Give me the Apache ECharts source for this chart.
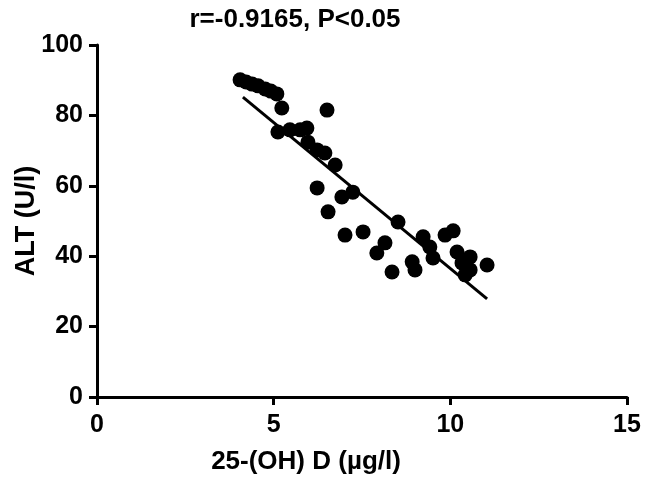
<!DOCTYPE html>
<html>
<head>
<meta charset="utf-8">
<script src="https://cdn.jsdelivr.net/npm/echarts@6/dist/echarts.min.js"></script>
<style>
html,body{margin:0;padding:0;background:#fff;}
#chart{width:646px;height:483px;}
</style>
</head>
<body>
<div id="chart"></div>
<script>
// 25-(OH) D (µg/l) values
const vitD = [4.05,4.22,4.39,4.56,4.76,4.92,5.09,5.23,6.51,5.12,5.46,5.75,5.94,5.97,6.23,6.45,6.74,6.23,6.93,7.24,6.54,7.02,7.53,7.92,8.15,8.35,8.52,8.92,9.0,9.23,9.42,9.51,9.85,10.08,10.19,10.33,10.56,10.56,10.42,11.04];
// ALT (U/l) values
const alt = [90.1,89.5,88.9,88.4,87.5,86.9,86.1,82.1,81.5,75.3,75.9,75.9,76.4,72.4,70.2,69.3,65.9,59.4,56.8,58.2,52.6,46.0,46.9,40.9,43.8,35.5,49.7,38.4,36.1,45.5,42.6,39.5,46.0,47.2,41.2,38.1,39.8,36.1,34.7,37.5];
// regression line end points
const fitX = [4.13, 11.04];
const fitY = [85.2, 27.9];
const xTicks = [0, 5, 10, 15];
const yTicks = [0, 20, 40, 60, 80, 100];
const titleText = 'r=-0.9165, P<0.05';

const points = vitD.map((v, i) => [v, alt[i]]);
const fitLine = fitX.map((v, i) => [v, fitY[i]]);
const font = '"Liberation Sans", Arial, sans-serif';

const chart = echarts.init(document.getElementById('chart'));
chart.setOption({
  animation: false,
  backgroundColor: '#fff',
  title: {
    text: titleText,
    left: 290,
    top: 2,
    textAlign: 'center',
    textStyle: {fontFamily: font, fontWeight: 'bold', fontSize: 26, color: '#000'}
  },
  grid: {left: 97, right: 19, top: 45, bottom: 86, containLabel: false, outerBoundsMode: 'none'},
  xAxis: {
    type: 'value', min: 0, max: 15, interval: 5,
    name: '25-(OH) D (µg/l)',
    nameLocation: 'middle',
    nameGap: 52,
    nameMoveOverlap: false,
    nameTextStyle: {fontFamily: font, fontWeight: 'bold', fontSize: 26, color: '#000', padding: [0, 112, 0, 0]},
    axisLine: {show: true, lineStyle: {color: '#000', width: 3}},
    axisTick: {show: true, length: 8, lineStyle: {color: '#000', width: 3}},
    axisLabel: {fontFamily: font, fontWeight: 'bold', fontSize: 25, color: '#000', margin: 16},
    splitLine: {show: false}
  },
  yAxis: {
    type: 'value', min: 0, max: 100, interval: 20,
    name: 'ALT (U/l)',
    nameLocation: 'middle',
    nameGap: 57,
    nameMoveOverlap: false,
    nameTextStyle: {fontFamily: font, fontWeight: 'bold', fontSize: 27, color: '#000'},
    axisLine: {show: true, lineStyle: {color: '#000', width: 3}},
    axisTick: {show: true, length: 8, lineStyle: {color: '#000', width: 3}},
    axisLabel: {fontFamily: font, fontWeight: 'bold', fontSize: 25, color: '#000', margin: 14},
    splitLine: {show: false}
  },
  series: [
    {
      type: 'scatter',
      data: points,
      symbol: 'circle',
      symbolSize: 15,
      itemStyle: {color: '#000', opacity: 1},
      z: 3
    },
    {
      type: 'line',
      data: fitLine,
      symbol: 'none',
      lineStyle: {color: '#000', width: 3},
      z: 2
    }
  ]
});
</script>
</body>
</html>
